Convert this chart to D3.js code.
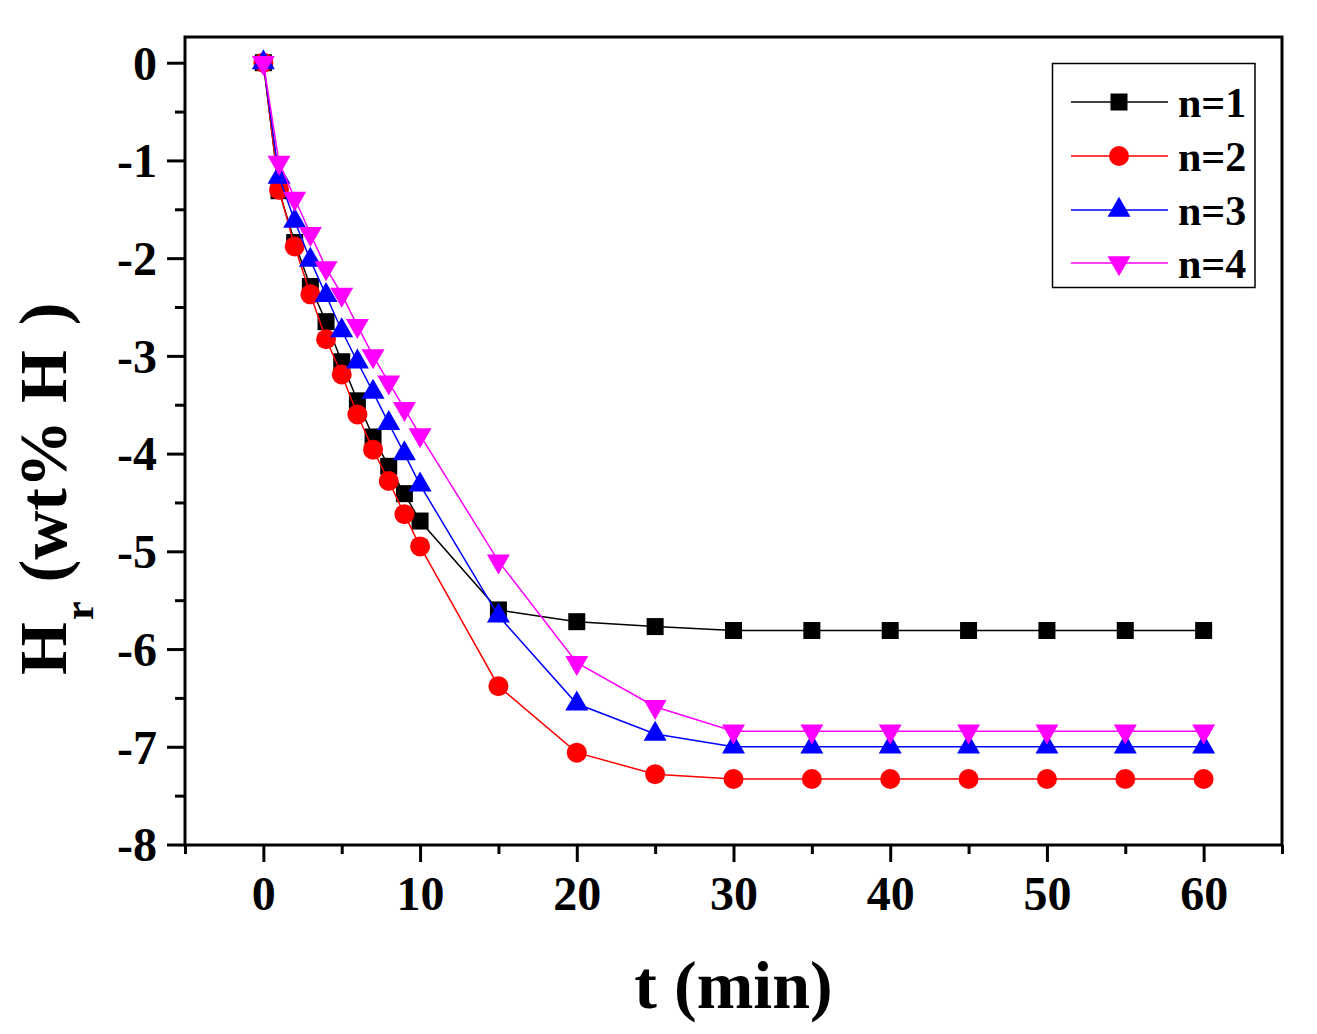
<!DOCTYPE html>
<html><head><meta charset="utf-8">
<script src="https://cdn.jsdelivr.net/npm/d3@7"></script>
<style>body{margin:0;background:#fff}svg{display:block}</style>
</head><body>
<svg id="c" width="1317" height="1034"></svg>
<script>
const times = [0,1,2,3,4,5,6,7,8,9,10,15,20,25,30,35,40,45,50,55,60];
const n1 = [0,-1.31,-1.84,-2.29,-2.65,-3.06,-3.46,-3.83,-4.13,-4.41,-4.69,-5.60,-5.72,-5.77,-5.81,-5.81,-5.81,-5.81,-5.81,-5.81,-5.81];
const n2 = [0,-1.30,-1.88,-2.37,-2.83,-3.19,-3.60,-3.96,-4.28,-4.62,-4.95,-6.38,-7.06,-7.28,-7.33,-7.33,-7.33,-7.33,-7.33,-7.33,-7.33];
const n3 = [0,-1.17,-1.62,-2.02,-2.38,-2.74,-3.06,-3.37,-3.69,-4.00,-4.32,-5.66,-6.56,-6.87,-7.00,-7.00,-7.00,-7.00,-7.00,-7.00,-7.00];
const n4 = [0,-1.02,-1.39,-1.75,-2.10,-2.37,-2.69,-3.00,-3.27,-3.54,-3.81,-5.10,-6.14,-6.59,-6.84,-6.84,-6.84,-6.84,-6.84,-6.84,-6.84];
const seriesNames = ["n=1","n=2","n=3","n=4"];
const seriesColors = ["#000000","#ff0000","#0000ff","#ff00ff"];
const seriesSymbols = ["square","circle","triangle","invtriangle"];
const xTicks = [0,10,20,30,40,50,60];
const yTicks = [0,-1,-2,-3,-4,-5,-6,-7,-8];

const svg = d3.select("#c");
const L=185, R=1282, T=37, B=845;
const x = d3.scaleLinear().domain([-5,65]).range([L,R]);
const y = d3.scaleLinear().domain([-8,0.263]).range([B-0.5,T]);
const font = "'Liberation Serif','Times New Roman',serif";

function sym(g, type, cx, cy, color){
  if(type==="square"){
    g.append("rect").attr("x",cx-8.5).attr("y",cy-8.5).attr("width",17).attr("height",17).attr("fill",color);
  } else if(type==="circle"){
    g.append("circle").attr("cx",cx).attr("cy",cy).attr("r",10).attr("fill",color);
  } else if(type==="triangle"){
    const h=20, w=23;
    g.append("path").attr("d",`M${cx},${cy-2*h/3}L${cx+w/2},${cy+h/3}L${cx-w/2},${cy+h/3}Z`).attr("fill",color);
  } else {
    const h=20, w=23;
    g.append("path").attr("d",`M${cx},${cy+2*h/3}L${cx+w/2},${cy-h/3}L${cx-w/2},${cy-h/3}Z`).attr("fill",color);
  }
}

// data
const allSeries = [n1,n2,n3,n4];
const line = d3.line().x(d=>x(d[0])).y(d=>y(d[1]));
allSeries.forEach((vals,i)=>{
  const pts = times.map((t,j)=>[t,vals[j]]);
  const g = svg.append("g");
  g.append("path").attr("d",line(pts)).attr("fill","none").attr("stroke",seriesColors[i]).attr("stroke-width",1.5);
  pts.forEach(p=>sym(g,seriesSymbols[i],x(p[0]),y(p[1]),seriesColors[i]));
});

// axes
const xAxis = d3.axisBottom(x).tickValues(xTicks).tickSize(17).tickPadding(14).tickFormat(d3.format("d"));
const xMinor = d3.axisBottom(x).tickValues(d3.range(-5,66,10)).tickSize(9).tickFormat("");
const gx = svg.append("g").attr("transform",`translate(0,${B})`).call(xAxis);
const gxm = svg.append("g").attr("transform",`translate(0,${B})`).call(xMinor);
const yAxis = d3.axisLeft(y).tickValues(yTicks).tickSize(18).tickPadding(10).tickFormat(d=>d===0?"0":"-"+Math.abs(d));
const yMinor = d3.axisLeft(y).tickValues(d3.range(-7.5,0.1,1)).tickSize(10).tickFormat("");
const gy = svg.append("g").attr("transform",`translate(${L},0)`).call(yAxis);
const gym = svg.append("g").attr("transform",`translate(${L},0)`).call(yMinor);
[gx,gxm,gy,gym].forEach(g=>{
  g.select(".domain").remove();
  g.selectAll("line").attr("stroke","#000").attr("stroke-width",3);
  g.selectAll("text").attr("fill","#000").attr("font-family",font).attr("font-weight","bold").attr("font-size",48);
});
gy.selectAll("text").attr("dy","0.34em");

// frame
svg.append("rect").attr("x",L).attr("y",T).attr("width",R-L).attr("height",B-T)
  .attr("fill","none").attr("stroke","#000").attr("stroke-width",3);

// titles
svg.append("text").attr("x",(L+R)/2).attr("y",1008).attr("text-anchor","middle")
  .attr("font-family",font).attr("font-weight","bold").attr("font-size",68).text("t (min)");
const yt = svg.append("text").attr("transform","translate(66,675) rotate(-90)")
  .attr("font-family",font).attr("font-weight","bold").attr("font-size",68);
yt.append("tspan").text("H");
yt.append("tspan").attr("font-size",42).attr("dy",27).attr("dx",2).text("r");
yt.append("tspan").attr("dy",-27).attr("dx",2).text(" (wt% H");
yt.append("tspan").attr("dx",8).text(" )");

// legend
const lg = svg.append("g");
lg.append("rect").attr("x",1052.5).attr("y",63.5).attr("width",202.5).attr("height",224)
  .attr("fill","#fff").attr("stroke","#000").attr("stroke-width",1.5);
const rowY = [102,156,210,263];
seriesNames.forEach((nm,i)=>{
  lg.append("line").attr("x1",1071).attr("x2",1168).attr("y1",rowY[i]).attr("y2",rowY[i])
    .attr("stroke",seriesColors[i]).attr("stroke-width",1.5);
  sym(lg,seriesSymbols[i],1119,rowY[i],seriesColors[i]);
  lg.append("text").attr("x",1178).attr("y",rowY[i]+14.5).attr("font-family",font)
    .attr("font-weight","bold").attr("font-size",42).text(nm);
});
</script>
</body></html>
